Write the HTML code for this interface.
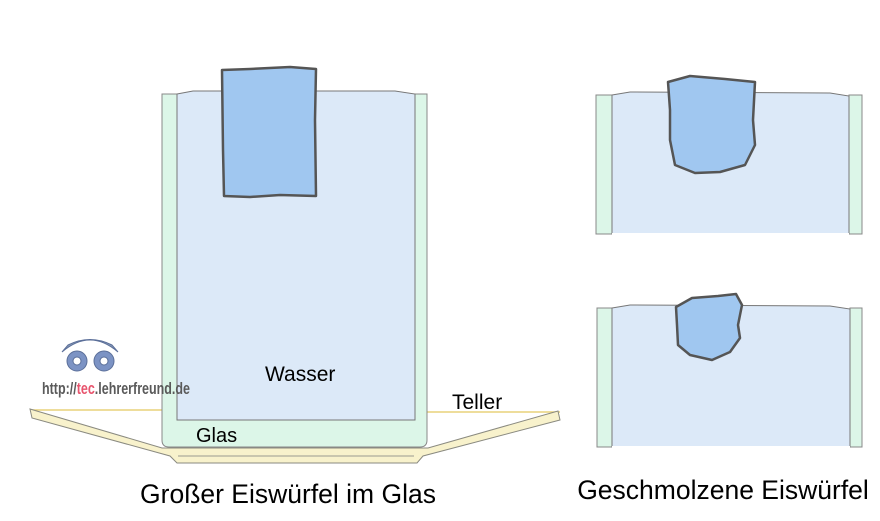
<!DOCTYPE html>
<html><head><meta charset="utf-8"><style>
html,body{margin:0;padding:0;background:#fff;width:880px;height:521px;overflow:hidden}
svg{display:block}
text{font-family:"Liberation Sans",Arial,sans-serif}
</style></head><body>
<svg width="880" height="521" viewBox="0 0 880 521" xmlns="http://www.w3.org/2000/svg">
<!-- plate yellow lines -->
<line x1="30" y1="410" x2="162" y2="410" stroke="#e8d27a" stroke-width="1.5"/>
<line x1="427" y1="412" x2="560" y2="412" stroke="#e8d27a" stroke-width="1.5"/>
<!-- plate -->
<polygon points="30,409 162,448 428,448 558,411 560,420 423,456 417,463 177,463 170,456 32,418" fill="#f8f2cc" stroke="#8a8a80" stroke-width="1"/>
<line x1="178" y1="456" x2="414" y2="456" stroke="#9a9a90" stroke-width="1"/>
<!-- main glass -->
<path d="M162,94 L177,94 L177,420 L415,420 L415,94 L427,94 L427,440 Q427,447 420,447 L169,447 Q162,447 162,440 Z" fill="#dcf6e8" stroke="#888" stroke-width="1"/>
<path d="M177,94 L193,91 L395,91 L415,94 L415,420 L177,420 Z" fill="#dce9f8" stroke="#777" stroke-width="1"/>
<path d="M222,70 L250,69 L290,67 L316,69 L315,120 L316,196 L280,195 L250,197 L224,196 L223,150 Z" fill="#a0c7f0" stroke="#555" stroke-width="2.5" stroke-linejoin="round"/>
<text x="265" y="381" font-size="21">Wasser</text>
<text x="196" y="442" font-size="20">Glas</text>
<text x="452" y="409" font-size="21">Teller</text>
<!-- logo -->
<g fill="#7c93c4" stroke="#5b6f99" stroke-width="1">
<path d="M62,352 Q90,328 118,352 L112,345 Q90,334 68,345 Z" fill="#8a9cb8"/>
<circle cx="77" cy="361" r="10"/><circle cx="104" cy="361" r="10"/>
<circle cx="77" cy="361" r="4" fill="#fff"/><circle cx="104" cy="361" r="4" fill="#fff"/>
</g>
<text x="42" y="394" font-size="17" font-weight="bold" fill="#5a5a5a" textLength="148" lengthAdjust="spacingAndGlyphs">http://<tspan fill="#e8556e">tec</tspan>.lehrerfreund.de</text>
<!-- right top -->
<rect x="596" y="95" width="16" height="139" fill="#dcf6e8" stroke="#888" stroke-width="1"/>
<rect x="849" y="95" width="13" height="139" fill="#dcf6e8" stroke="#888" stroke-width="1"/>
<path d="M612,95 L630,92 L830,93 L849,96 L849,234 L612,234 Z" fill="#dce9f8" stroke="#777" stroke-width="1"/>
<rect x="612" y="233" width="237" height="3" fill="#fff"/>
<path d="M668,82 L690,76 L725,79 L755,82 L753,120 L755,145 L745,165 L720,172 L695,173 L675,165 L670,140 L670,110 Z" fill="#a0c7f0" stroke="#555" stroke-width="2.5" stroke-linejoin="round"/>
<!-- right bottom -->
<rect x="597" y="308" width="15" height="139" fill="#dcf6e8" stroke="#888" stroke-width="1"/>
<rect x="850" y="308" width="12" height="139" fill="#dcf6e8" stroke="#888" stroke-width="1"/>
<path d="M612,308 L630,305 L830,306 L850,309 L850,447 L612,447 Z" fill="#dce9f8" stroke="#777" stroke-width="1"/>
<rect x="612" y="446" width="238" height="3" fill="#fff"/>
<path d="M676,307 L692,298 L718,296 L736,294 L742,305 L738,325 L740,338 L730,352 L712,360 L690,355 L678,345 L677,325 Z" fill="#a0c7f0" stroke="#555" stroke-width="2.5" stroke-linejoin="round"/>
<text x="288" y="503" font-size="26.5" text-anchor="middle">Großer Eiswürfel im Glas</text>
<text x="723" y="499" font-size="26.5" text-anchor="middle">Geschmolzene Eiswürfel</text>
</svg>
</body></html>
